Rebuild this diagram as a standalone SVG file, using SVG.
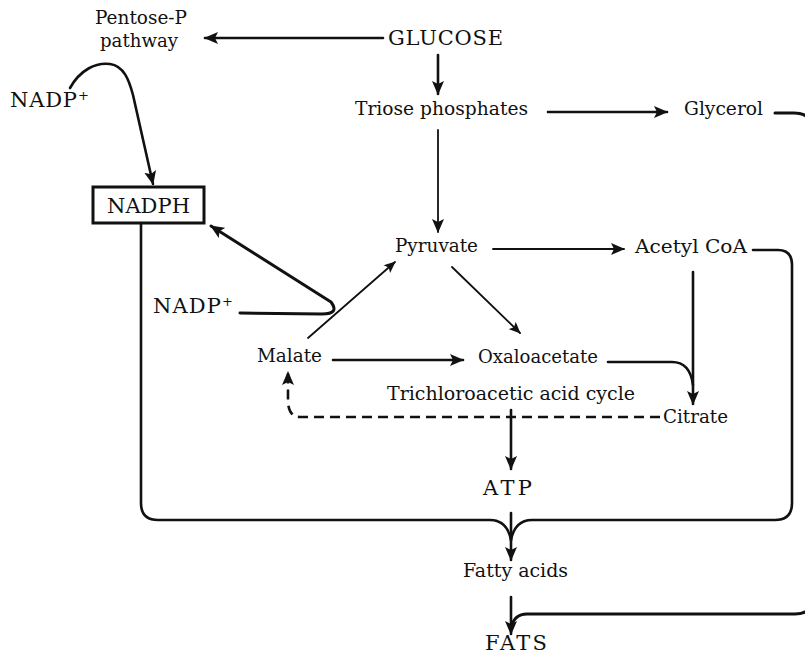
<svg xmlns="http://www.w3.org/2000/svg" width="805" height="663" viewBox="0 0 805 663">
<defs>
<style>
text{font-family:"DejaVu Serif","Liberation Serif",serif;font-size:19px;fill:#111}
.cap{font-size:21px}
.sup{font-size:13px}
.c{fill:none;stroke:#111;stroke-width:2.6;stroke-linecap:round;stroke-linejoin:round}
.t{stroke-width:1.8}
.k{stroke-width:3}
.d{stroke-dasharray:10 6;stroke-linecap:butt}
</style>
<marker id="ah" viewBox="0 0 14 12" markerWidth="14" markerHeight="12" refX="13" refY="6" orient="auto" markerUnits="userSpaceOnUse">
<path d="M0,0 L14,6 L0,12 L3,6 z" fill="#111"/>
</marker>
<marker id="as" viewBox="0 0 14 12" markerWidth="12" markerHeight="10" refX="13" refY="6" orient="auto" markerUnits="userSpaceOnUse">
<path d="M0,0 L14,6 L0,12 L3,6 z" fill="#111"/>
</marker>
</defs>
<rect width="805" height="663" fill="#fff"/>

<g id="connectors">
<path class="c" d="M383,38 L205,38" marker-end="url(#ah)"/>
<path class="c" d="M438,55 L438,94" marker-end="url(#ah)"/>
<path class="c" d="M548,112 L667,112" marker-end="url(#ah)"/>
<path class="c t" d="M438,130 L438,232" marker-end="url(#ah)"/>
<path class="c t" d="M493,249 L624,249" marker-end="url(#ah)"/>
<path class="c t" d="M452,267 L520,333" marker-end="url(#as)"/>
<path class="c t" d="M308,338 L395,262" marker-end="url(#as)"/>
<path class="c" d="M333,360 L463,360" marker-end="url(#ah)"/>
<path class="c" d="M693,272 L693,404" marker-end="url(#ah)"/>
<path class="c" d="M608,362 L672,362 Q690,362 693,385"/>
<path class="c d" d="M660,417 L300,417 Q289,417 288,402 L288,372" marker-end="url(#ah)"/>
<path class="c" d="M511,410 L511,469" marker-end="url(#ah)"/>
<path class="c" d="M511,513 L511,560" marker-end="url(#ah)"/>
<path class="c" d="M511,597 L511,634" marker-end="url(#ah)"/>
<path class="c" d="M141,223 L141,503 Q141,520 158,520 L490,520 Q507,520 511,540"/>
<path class="c" d="M753,250 L778,250 Q792,250 792,265 L792,503 Q792,520 775,520 L532,520 Q515,520 511,540"/>
<path class="c k" d="M775,113 L794,113 Q813,113 813,132 L813,596 Q813,614 795,614 L527,614 Q514,614 511,628"/>
<path class="c" d="M70,88 C80,70 96,62 110,64 C124,66 129,80 133,95 L153,184" marker-end="url(#ah)"/>
<path class="c k" d="M240,313 L322,314 Q340,314 331,302 L211,226" marker-end="url(#ah)"/>
</g>

<g id="pentose"><text x="95" y="24" textLength="92" lengthAdjust="spacingAndGlyphs">Pentose-P</text><text x="100" y="47" textLength="78" lengthAdjust="spacingAndGlyphs">pathway</text></g>
<g id="glucose"><text class="cap" x="388" y="45" textLength="115">GLUCOSE</text></g>
<g id="triose"><text x="355" y="115" textLength="173" lengthAdjust="spacingAndGlyphs">Triose phosphates</text></g>
<g id="glycerol"><text x="684" y="115" textLength="79" lengthAdjust="spacingAndGlyphs">Glycerol</text></g>
<g id="nadp1"><text class="cap" x="10" y="107" textLength="67">NADP</text><text class="sup" x="78" y="100">+</text></g>
<g id="nadph"><rect x="93" y="187" width="111" height="36" fill="none" stroke="#111" stroke-width="3"/><text class="cap" x="107" y="213" textLength="83">NADPH</text></g>
<g id="pyruvate"><text x="395" y="252" textLength="83" lengthAdjust="spacingAndGlyphs">Pyruvate</text></g>
<g id="acetylcoa"><text x="635" y="253" textLength="112" lengthAdjust="spacingAndGlyphs">Acetyl CoA</text></g>
<g id="nadp2"><text class="cap" x="153" y="313" textLength="68">NADP</text><text class="sup" x="222" y="306">+</text></g>
<g id="malate"><text x="257" y="362" textLength="65" lengthAdjust="spacingAndGlyphs">Malate</text></g>
<g id="oxaloacetate"><text x="478" y="363" textLength="120" lengthAdjust="spacingAndGlyphs">Oxaloacetate</text></g>
<g id="tca"><text x="387" y="400" textLength="248" lengthAdjust="spacingAndGlyphs">Trichloroacetic acid cycle</text></g>
<g id="citrate"><text x="663" y="423" textLength="65" lengthAdjust="spacingAndGlyphs">Citrate</text></g>
<g id="atp"><text class="cap" x="483" y="495" textLength="49">ATP</text></g>
<g id="fattyacids"><text x="463" y="577" textLength="105" lengthAdjust="spacingAndGlyphs">Fatty acids</text></g>
<g id="fats"><text class="cap" x="485" y="650" textLength="62">FATS</text></g>
</svg>
